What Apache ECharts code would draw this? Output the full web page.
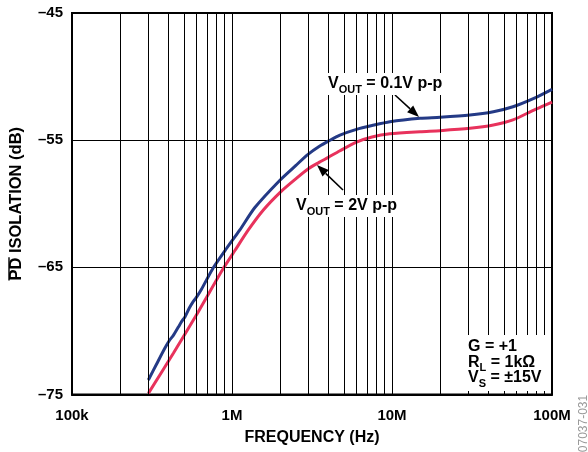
<!DOCTYPE html>
<html>
<head>
<meta charset="utf-8">
<script src="https://cdn.jsdelivr.net/npm/echarts@6/dist/echarts.min.js"></script>
<style>
html,body{margin:0;padding:0;background:#fff;}
#chart{width:588px;height:452px;}
</style>
</head>
<body>
<div id="chart"></div>
<script>
// ---- data ----
const freq01 = [3.0e5,3.38e5,3.81e5,4.06e5,4.3e5,4.62e5,4.85e5,5.08e5,5.41e5,5.68e5,5.96e5,6.46e5,7.64e5,9.26e5,1.12e6,1.39e6,2.0e6,2.5e6,3.0e6,3.5e6,4.0e6,4.73e6,6.0e6,7.5e6,9.7e6,1.5e7,2.0e7,3.07e7,4.3e7,5.7e7,7.7e7,1.0e8];
const iso01  = [-73.86,-72.6,-71.35,-70.75,-70.35,-69.7,-69.25,-68.9,-68.2,-67.75,-67.4,-66.7,-65.03,-63.5,-62.06,-60.3,-58.13,-57.0,-56.1,-55.5,-55.08,-54.6,-54.15,-53.85,-53.55,-53.28,-53.2,-53.02,-52.76,-52.37,-51.71,-51.0];
const freq2  = [3.0e5,4.3e5,6.16e5,8.83e5,1.04e6,1.265e6,1.57e6,2.0e6,2.5e6,3.0e6,3.5e6,4.0e6,4.7e6,6.0e6,7.5e6,9.7e6,1.5e7,2.0e7,3.07e7,4.3e7,5.7e7,7.7e7,1.0e8];
const iso2   = [-74.91,-71.76,-68.49,-65.08,-63.7,-62.06,-60.49,-59.1,-58.05,-57.25,-56.75,-56.35,-55.85,-55.15,-54.75,-54.5,-54.33,-54.25,-54.07,-53.81,-53.41,-52.63,-52.0];
const xTickValues = [1e5,1e6,1e7,1e8];
const xTickLabels = ['100k','1M','10M','100M'];
const yTicks = [-75,-65,-55,-45];
const gridMultipliers = [1,2,3,4,5,6,7,8,9];
const gridDecades = [1e5,1e6,1e7];

const FONT = "'Liberation Sans', Arial, Helvetica, sans-serif";
const BLUE = '#243a86';
const RED = '#e8325c';

const gridFreqs = [];
gridDecades.forEach(d => gridMultipliers.forEach(m => { const f = d*m; if (f > 1e5) gridFreqs.push(f); }));

const chart = echarts.init(document.getElementById('chart'), null, {renderer:'canvas'});

function arrow(tail, tip) {
  const dx = tip[0]-tail[0], dy = tip[1]-tail[1];
  const L = Math.hypot(dx,dy), ux = dx/L, uy = dy/L;
  const hl = 12, hw = 4.5;
  const bx = tip[0]-ux*hl, by = tip[1]-uy*hl;
  return [
    {type:'line', z:50, shape:{x1:tail[0], y1:tail[1], x2:bx, y2:by}, style:{stroke:'#000', lineWidth:1.6}},
    {type:'polygon', z:50, shape:{points:[[tip[0],tip[1]],[bx-uy*hw,by+ux*hw],[bx+uy*hw,by-ux*hw]]}, style:{fill:'#000'}}
  ];
}
const rich = {
  v:{fontFamily:FONT, fontWeight:'bold', fontSize:16, lineHeight:22, verticalAlign:'middle', fill:'#000'},
  s:{fontFamily:FONT, fontWeight:'bold', fontSize:11, lineHeight:12, verticalAlign:'bottom', fill:'#000'}
};
function label(x, y, main, sub, rest, bg) {
  const st = {text:'{v|'+main+'}{s|'+sub+'}{v|'+rest+'}', rich:rich, verticalAlign:'middle', align:'left'};
  if (bg) { st.backgroundColor = '#fff'; st.padding = [0,4,0,4]; }
  return {type:'text', z:60, x:x, y:y, style:st};
}

// y-axis title geometry (for the overline on "PD")
const YNAME = 'PD ISOLATION (dB)';
const YNAME_SIZE = 16.5;
const mctx = document.createElement('canvas').getContext('2d');
mctx.font = 'bold ' + YNAME_SIZE + "px 'Liberation Sans', Arial, sans-serif";
const yNameW = mctx.measureText(YNAME).width;
const pdW = mctx.measureText('PD').width;
const yNameCx = 16.3, yNameCy = 13 + (394.5-13)/2;
const pdBottom = yNameCy + yNameW/2;

const option = {
  animation:false,
  backgroundColor:'#fff',
  grid:{left:72, right:36, top:13, bottom:57.5, show:true, borderColor:'#000', borderWidth:2, backgroundColor:'transparent'},
  xAxis:{
    type:'log', logBase:10, min:1e5, max:1e8,
    name:'FREQUENCY (Hz)', nameLocation:'middle', nameGap:35,
    nameTextStyle:{fontFamily:FONT, fontWeight:'bold', fontSize:16, color:'#000'},
    axisLine:{show:true, lineStyle:{color:'#000', width:2}},
    axisTick:{show:false},
    splitLine:{show:false},
    axisLabel:{fontFamily:FONT, fontWeight:'bold', fontSize:15, color:'#000', margin:14,
      formatter:v => { const i = xTickValues.findIndex(t => Math.abs(Math.log10(t)-Math.log10(v))<1e-6); return i>=0 ? xTickLabels[i] : ''; }}
  },
  yAxis:{
    type:'value', min:-75, max:-45, interval:10,
    axisLine:{show:true, lineStyle:{color:'#000', width:2}},
    axisTick:{show:false},
    splitLine:{show:true, lineStyle:{color:'#000', width:1}},
    axisLabel:{fontFamily:FONT, fontWeight:'bold', fontSize:15, color:'#000', margin:9,
      formatter:v => yTicks.includes(v) ? (v<0?'\u2013':'')+Math.abs(v) : ''}
  },
  series:[
    {type:'line', name:'grid', data:[], z:1, silent:true,
     markLine:{silent:true, symbol:['none','none'], label:{show:false},
       lineStyle:{color:'#000', width:1, type:'solid'},
       data:gridFreqs.map(f => ({xAxis:f}))}},
    {type:'line', name:'VOUT = 2V p-p', data:freq2.map((f,i)=>[f,iso2[i]]), showSymbol:false, smooth:0.25, z:3,
     lineStyle:{color:RED, width:3}, itemStyle:{color:RED}},
    {type:'line', name:'VOUT = 0.1V p-p', data:freq01.map((f,i)=>[f,iso01[i]]), showSymbol:false, smooth:0.25, z:4,
     lineStyle:{color:BLUE, width:3}, itemStyle:{color:BLUE}}
  ],
  graphic:[
    {type:'rect', z:40, shape:{x:462, y:335, width:86, height:56}, style:{fill:'#fff'}},
    {type:'text', z:60, x:468, y:346.5, style:{text:'G = +1', fontFamily:FONT, fontWeight:'bold', fontSize:16, fill:'#000', verticalAlign:'middle'}},
    label(468, 362.5, 'R', 'L', ' = 1k\u03A9', false),
    label(468, 378, 'V', 'S', ' = \u00B115V', false),
    label(324, 84, 'V', 'OUT', ' = 0.1V p-p', true),
    label(292, 206, 'V', 'OUT', ' = 2V p-p', true),
    ...arrow([395,95],[419,117]),
    ...arrow([343,190],[317,165]),
    {type:'text', z:60, x:yNameCx, y:yNameCy, rotation:Math.PI/2,
     style:{text:YNAME, fontFamily:FONT, fontWeight:'bold', fontSize:YNAME_SIZE, fill:'#000', align:'center', verticalAlign:'middle'}},
    {type:'rect', z:60, shape:{x:8.3, y:pdBottom - pdW - 0.5, width:1.4, height:pdW + 0.5}, style:{fill:'#000'}},
    {type:'text', z:60, x:583.5, y:423.5, rotation:Math.PI/2, style:{text:'07037-031', fontFamily:FONT, fontSize:12, fill:'#999', align:'center', verticalAlign:'middle'}}
  ]
};
chart.setOption(option);
</script>
</body>
</html>
